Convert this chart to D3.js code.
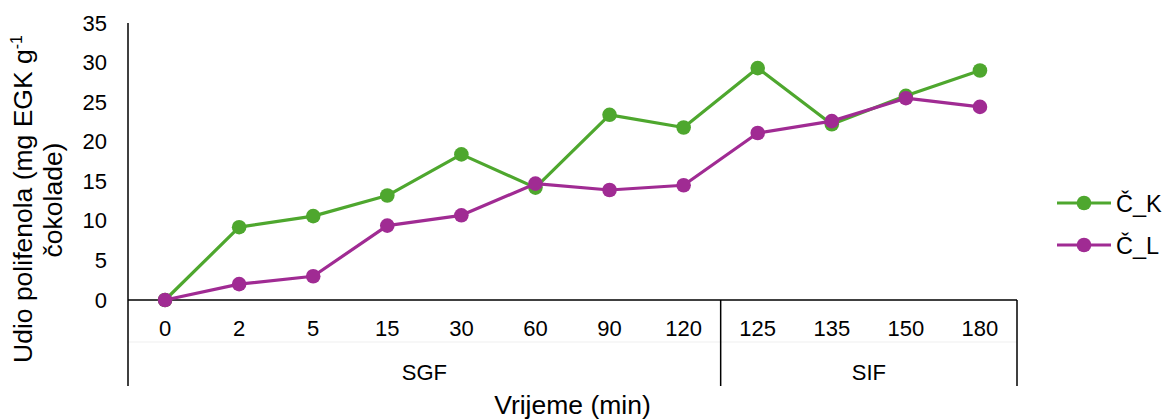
<!DOCTYPE html>
<html><head><meta charset="utf-8">
<script src="https://cdn.jsdelivr.net/npm/d3@7"></script>
<style>body{margin:0;background:#fff;} svg{display:block;font-family:"Liberation Sans",Arial,sans-serif;}</style>
</head><body>
<script>
const categories = ["0","2","5","15","30","60","90","120","125","135","150","180"];
const groups = [{name:"SGF", from:0, to:7}, {name:"SIF", from:8, to:11}];
const seriesK = [0, 9.2, 10.6, 13.2, 18.4, 14.2, 23.4, 21.8, 29.3, 22.2, 25.8, 29.0];
const seriesL = [0, 2.0, 3.0, 9.4, 10.7, 14.7, 13.9, 14.5, 21.1, 22.6, 25.5, 24.4];
const seriesNames = ["Č_K", "Č_L"];
const yTicks = [0, 5, 10, 15, 20, 25, 30, 35];
const colors = ["#4EA72E", "#A02B93"];

(function(){
const W = 1166, H = 420;
const FS = 22, TS = 26.5, LS = 23.5;
const svg = d3.select("body").append("svg").attr("width", W).attr("height", H);
const pL = 128, pR = 1017, pT = 23, zeroY = 300, pB = 386;

const x = d3.scaleBand().domain(categories).range([pL, pR]);
const y = d3.scaleLinear().domain([0, 35]).range([zeroY, pT]);

svg.append("line").attr("x1", pL).attr("x2", pR).attr("y1", 342).attr("y2", 342)
  .attr("stroke", "#efefef").attr("stroke-width", 1);

const yAxis = d3.axisLeft(y).tickValues(yTicks).tickSize(0).tickPadding(21);
const gy = svg.append("g").attr("transform", `translate(${pL},0)`).call(yAxis);
gy.attr("font-size", FS).attr("font-family", "Liberation Sans, Arial, sans-serif");
gy.select(".domain").remove();
gy.selectAll("text").attr("fill", "#000");

svg.append("line").attr("x1", pL).attr("x2", pL).attr("y1", pT).attr("y2", pB).attr("stroke", "#000").attr("stroke-width", 1.5);
svg.append("line").attr("x1", pL).attr("x2", pR).attr("y1", zeroY).attr("y2", zeroY).attr("stroke", "#000").attr("stroke-width", 1.5);
groups.forEach((g) => {
  const xr = x(categories[g.to]) + x.bandwidth();
  svg.append("line").attr("x1", xr).attr("x2", xr).attr("y1", zeroY).attr("y2", pB).attr("stroke", "#000").attr("stroke-width", 1.5);
});

const xAxis = d3.axisBottom(x).tickSize(0).tickPadding(0);
const gx = svg.append("g").attr("transform", `translate(0,${zeroY})`).call(xAxis);
gx.attr("font-size", FS).attr("font-family", "Liberation Sans, Arial, sans-serif");
gx.select(".domain").remove();
gx.selectAll("text").attr("fill", "#000").attr("dy", null).attr("y", 36);

groups.forEach((g) => {
  const x0 = x(categories[g.from]), x1 = x(categories[g.to]) + x.bandwidth();
  svg.append("text").attr("x", (x0 + x1) / 2).attr("y", 380).attr("text-anchor", "middle")
    .attr("font-size", FS).text(g.name);
});

svg.append("text").attr("x", (pL + pR) / 2).attr("y", 414).attr("text-anchor", "middle").attr("font-size", TS).text("Vrijeme (min)");
const yt = svg.append("text").attr("transform", "translate(32,199) rotate(-90)").attr("text-anchor", "middle").attr("font-size", TS);
yt.append("tspan").text("Udio polifenola (mg EGK g");
yt.append("tspan").attr("dy", -10).attr("font-size", 16).text("-1");
svg.append("text").attr("transform", "translate(62,200) rotate(-90)").attr("text-anchor", "middle").attr("font-size", TS).text("čokolade)");

const line = d3.line().x((d, i) => x(categories[i]) + x.bandwidth() / 2).y(d => y(d));
[seriesK, seriesL].forEach((s, k) => {
  svg.append("path").datum(s).attr("d", line).attr("fill", "none").attr("stroke", colors[k]).attr("stroke-width", 3.2).attr("stroke-linejoin", "round");
  svg.selectAll(null).data(s).enter().append("circle")
    .attr("cx", (d, i) => x(categories[i]) + x.bandwidth() / 2).attr("cy", d => y(d)).attr("r", 7.3).attr("fill", colors[k]);
});

seriesNames.forEach((n, k) => {
  const ly = 203 + k * 42;
  svg.append("line").attr("x1", 1057).attr("x2", 1111).attr("y1", ly).attr("y2", ly).attr("stroke", colors[k]).attr("stroke-width", 3.2);
  svg.append("circle").attr("cx", 1084).attr("cy", ly).attr("r", 7.3).attr("fill", colors[k]);
  svg.append("text").attr("x", 1116).attr("y", ly + 8.5).attr("font-size", LS).text(n);
});
})();
</script>
</body></html>
